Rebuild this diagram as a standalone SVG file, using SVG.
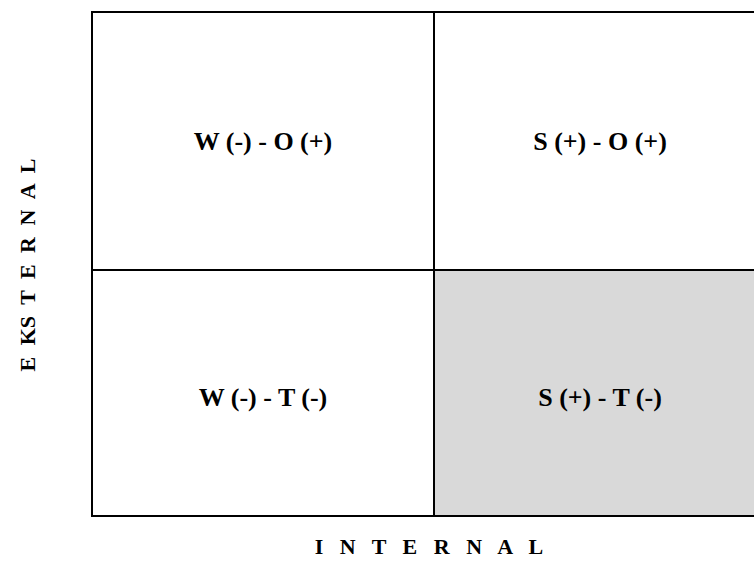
<svg xmlns="http://www.w3.org/2000/svg" width="754" height="562" viewBox="0 0 754 562">
<style>
.cell{fill:#ffffff;stroke:#000000;stroke-width:2}
.shade{fill:#d9d9d9}
.lbl{font-family:"Liberation Serif","Times New Roman",serif;font-weight:bold;font-size:26px;fill:#000000;text-anchor:middle}
.axis{font-family:"Liberation Serif","Times New Roman",serif;font-weight:bold;font-size:22px;fill:#000000;text-anchor:middle}
</style>
<rect width="754" height="562" fill="#ffffff"/>
<g id="cell-wo">
<rect class="cell" x="92" y="12" width="342" height="258"/>
<text class="lbl" x="263" y="150">W (-) - O (+)</text>
</g>
<g id="cell-so">
<rect class="cell" x="434" y="12" width="332" height="258"/>
<text class="lbl" x="600" y="150">S (+) - O (+)</text>
</g>
<g id="cell-wt">
<rect class="cell" x="92" y="270" width="342" height="246"/>
<text class="lbl" x="263" y="406">W (-) - T (-)</text>
</g>
<g id="cell-st">
<rect class="cell shade" x="434" y="270" width="332" height="246" stroke="#000" stroke-width="2"/>
<text class="lbl" x="600" y="406">S (+) - T (-)</text>
</g>
<g id="axis-internal">
<text class="axis" x="429" y="554" style="word-spacing:11px">I N T E R N A L</text>
</g>
<g id="axis-eksternal">
<text class="axis" transform="translate(35,265) rotate(-90)" x="0" y="0" style="word-spacing:6px">E KS T E R N A L</text>
</g>
</svg>
